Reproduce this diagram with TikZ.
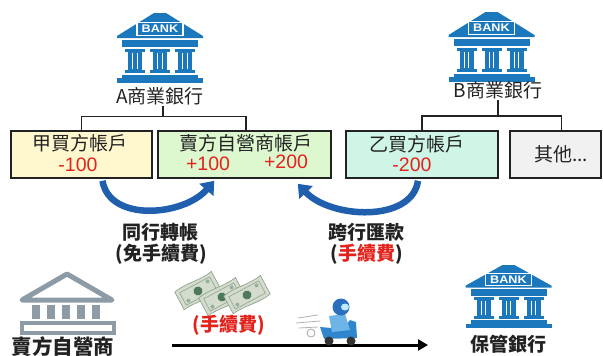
\documentclass[tikz,border=0pt]{standalone}
\usepackage{fontspec}
\setmainfont{Liberation Sans}
\newfontfamily\cjk{Noto Sans CJK TC}
\usetikzlibrary{arrows.meta,calc}

\definecolor{bankblue}{HTML}{1B78BC}
\definecolor{bankgray}{HTML}{8D9BA7}
\definecolor{flowblue}{HTML}{1F5FAE}
\definecolor{amtred}{HTML}{E3221C}
\definecolor{boxyellow}{HTML}{FFF8CF}
\definecolor{boxgreen}{HTML}{DDF8CF}
\definecolor{boxmint}{HTML}{CFF5E6}
\definecolor{boxgray}{HTML}{F1F1F1}
\definecolor{inkgray}{HTML}{222222}
\definecolor{billface}{HTML}{D3DCCD}
\definecolor{billedge}{HTML}{8A9B88}
\definecolor{billseal}{HTML}{4F7A5A}
\definecolor{scooterblue}{HTML}{2F86CC}
\definecolor{riderblue}{HTML}{6DB5E6}
\definecolor{helmetblue}{HTML}{2A6FBE}

\tikzset{
  acct/.style={draw=inkgray, line width=1.6pt, minimum height=47pt, inner sep=0pt},
  acctname/.style={font=\cjk\fontsize{19}{19}\selectfont, text=inkgray, inner sep=0pt},
  amount/.style={font=\fontsize{19.5}{19.5}\selectfont, text=amtred, inner sep=0pt},
  banklbl/.style={font=\cjk\fontsize{19}{19}\selectfont, text=inkgray, inner sep=1pt},
  note/.style={font=\cjk\bfseries\fontsize{19}{19}\selectfont, text=inkgray, inner sep=0pt},
  tree/.style={line width=1.4pt, draw=inkgray},
  flow/.style={draw=flowblue, line width=6.5pt, -{Triangle[width=18pt,length=12pt]}},
  fee/.style={draw=black, line width=3pt, -{Triangle[width=11pt,length=10pt]}},
  pics/bank/.style={code={
    \fill[bankblue] (-6,0) -- (6,0) -- (43,23) -- (43,25) -- (-43,25) -- (-43,23) -- cycle;
    \draw[white, line width=1.1pt] (-23,9.5) rectangle (23,22.5);
    \node[text=white, font=\bfseries\fontsize{11}{11}\selectfont, inner sep=0pt, xscale=1.15] (sign) at (0,16.2) {BANK};
    \fill[bankblue] (-38,27) rectangle (38,34);
    \foreach \c in {-25,0,25}{
      \fill[bankblue] (\c-10,35.5) rectangle (\c+10,38.5);
      \fill[bankblue] (\c-7,38.5) rectangle (\c+7,57);
      \draw[white, line width=0.9pt] (\c-2.4,40) -- (\c-2.4,56) (\c+2.4,40) -- (\c+2.4,56);
      \fill[bankblue] (\c-10,57) rectangle (\c+10,60);
    }
    \fill[bankblue] (-38,61.5) rectangle (38,65);
    \fill[bankblue] (-43,65) rectangle (43,70);
  }}
}

\begin{document}
\begin{tikzpicture}[x=1pt,y=-1pt]
\useasboundingbox (0,0) rectangle (603,356);

% ---- the two commercial banks ----
\pic (bankApic) at (160,13) {bank};
\pic (bankBpic) at (491.5,12) {bank};
\node[banklbl] (bankA) at (160,96) {A商業銀行};
\node[banklbl] (bankB) at (498,90) {B商業銀行};

% ---- accounts ----
\node[acct, fill=boxyellow, minimum width=141pt] (buyerA) at (81.5,154.5) {};
\node[acct, fill=boxgreen, minimum width=173pt] (dealer) at (244.5,154.5) {};
\node[acct, fill=boxmint, minimum width=152pt] (buyerB) at (422,154.5) {};
\node[acct, fill=boxgray, minimum width=91pt] (other) at (555.5,154.5) {};

\node[acctname] (buyerAname) at (80,143.5) {甲買方帳戶};
\node[amount] (buyerAamt) at (78,165) {-100};
\node[acctname] (dealername) at (246,143.5) {賣方自營商帳戶};
\node[amount] (dealeramtA) at (208,164) {+100};
\node[amount] (dealeramtB) at (286,162) {+200};
\node[acctname] (buyerBname) at (417,144.5) {乙買方帳戶};
\node[amount] (buyerBamt) at (412,165) {-200};
\node[acctname] (othername) at (561,154) {其他...};

% ---- account trees ----
\coordinate (jA) at (163,117);
\coordinate (jB) at (498,116);
\draw[tree] (bankA.south -| jA) -- (jA);
\draw[tree] (buyerA.north) |- ($(dealer.north)+(1.5,-14)$) -- ($(dealer.north)+(1.5,0)$);
\draw[tree] (bankB.south) -- (jB);
\coordinate (otherTop) at ($(other.north)+(6,0)$);
\draw[tree] (buyerB.north) |- (otherTop |- jB) -- (otherTop);

% ---- transfers ----
\draw[flow] ($(buyerA.south)+(21,2)$) .. controls +(7,42) and +(-30,35) .. ($(dealer.south west)+(57,2)$);
\draw[flow] ($(buyerB.south)+(-4,2)$) .. controls +(-6,42) and +(33,35) .. ($(dealer.south east)+(-34,5)$);

\node[note] (sameBank) at (160,232) {同行轉帳};
\node[note] (sameBankFee) at (161,254) {(免手續費)};
\node[note] (crossBank) at (366.5,232) {跨行匯款};
\node[note] (crossBankFee) at (366.5,254) {(\textcolor{amtred}{手續費})};

% ---- dealer (outlined bank) ----
\draw[bankgray, line width=5pt, line join=round, fill=white] (67,274) -- (22,300) -- (112,300) -- cycle;
\foreach \c in {36,51,66,81,96}{
  \fill[bankgray] (\c-4,305) rectangle (\c+4,319);
}
\draw[bankgray, line width=4.5pt] (22,323) rectangle (114,333);
\node[note, font=\cjk\bfseries\fontsize{20.5}{20.5}\selectfont] (seller) at (63,347) {賣方自營商};

% ---- custody bank ----
\pic[yscale=0.9] (custodypic) at (508.5,265) {bank};
\node[note] (custody) at (508.5,344) {保管銀行};

% ---- delivery with fee ----
\coordinate (feeStart) at (172,345);
\coordinate (feeEnd) at (428,345);
\draw[fee] (feeStart) -- (feeEnd);

% bank notes
\foreach \bx/\by in {198/291, 222/297, 247/295}{
  \begin{scope}[shift={(\bx,\by)}, rotate=28]
    \fill[billface, draw=billedge, line width=0.6pt]
      (-21,-10) .. controls (-8,-13) and (8,-8) .. (21,-11) -- (21,10)
      .. controls (8,13) and (-8,8) .. (-21,10) -- cycle;
    \draw[billedge, line width=0.5pt] (-17,-7) rectangle (17,7);
    \fill[billseal] (0,0) circle (4.5);
    \fill[billseal!60] (-13,4) circle (2) (13,-4) circle (2);
  \end{scope}
}
\node[note, text=amtred] (feeLabel) at (229,325) {(手續費)};

% courier on a scooter
\draw[gray!60, line width=0.8pt] (298,318) -- (318,315) (296,323) -- (320,321) (299,328) -- (318,327);
\draw[gray!70, fill=white, line width=0.8pt] (311,333) circle (4);
\fill[scooterblue] (320,327) -- (343,329) -- (350,320) -- (356,322) -- (357,338) -- (324,339) -- cycle;
\fill[black!80] (329,341) circle (4.5) (351,341) circle (4.5);
\fill[riderblue] (329,316) -- (345,314) -- (350,330) -- (332,332) -- cycle;
\fill[helmetblue] (341,307) circle (8.5);
\fill[white!75!cyan] (345,307) ellipse (4 and 3.5);
\end{tikzpicture}
\end{document}
